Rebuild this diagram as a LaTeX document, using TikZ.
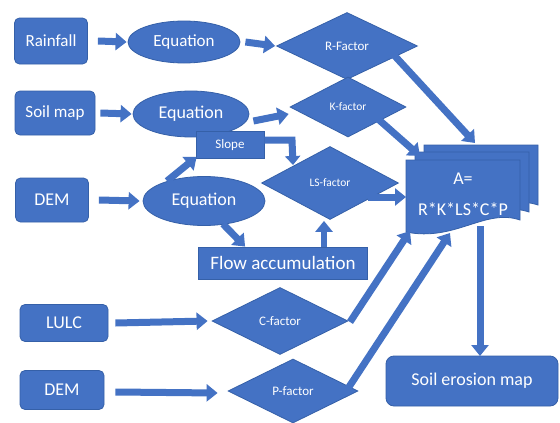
\documentclass[tikz,border=0pt]{standalone}
\usepackage{fontspec}
\setmainfont{Carlito}
\usetikzlibrary{shapes.geometric,arrows.meta,calc}
\definecolor{blu}{HTML}{4472C4}
\definecolor{edgeblu}{HTML}{3560A8}
\begin{document}
\begin{tikzpicture}[x=1pt,y=-1pt,
 base/.style={fill=blu,draw=edgeblu,line width=0.8pt,text=white,inner sep=0pt},
 big/.style={font=\fontsize{18}{21}\selectfont},
 med/.style={font=\fontsize{13}{15}\selectfont},
 sml/.style={font=\fontsize{11.5}{13}\selectfont},
 rbox/.style={base,big,rounded corners=5pt},
 sbox/.style={base},
 ell/.style={base,big,ellipse},
 dia/.style={base,diamond},
 barrow/.style={draw=blu,line width=7pt,-{Triangle[width=17pt,length=11pt]}}
]
\useasboundingbox[fill=white] (0,0) rectangle (560,423);

% input boxes
\node[rbox,minimum width=73pt,minimum height=46pt,font=\fontsize{17}{20}\selectfont] (rain) at (51,41) {Rainfall};
\node[rbox,minimum width=80pt,minimum height=44pt,font=\fontsize{17}{20}\selectfont] (soil) at (55,113) {Soil map};
\node[rbox,minimum width=73pt,minimum height=44pt] (dem) at (52,200) {DEM};
\node[rbox,minimum width=88pt,minimum height=37pt] (lulc) at (64,323) {LULC};
\node[rbox,minimum width=84pt,minimum height=39pt] (dem2) at (62,390) {DEM};

% equations
\node[ell,minimum width=112pt,minimum height=42pt,font=\fontsize{17}{20}\selectfont] (eq1) at (184,42) {Equation};
\node[ell,minimum width=116pt,minimum height=46pt] (eq2) at (191,114) {Equation};
\node[ell,minimum width=122pt,minimum height=49pt] (eq3) at (204,201) {Equation};

% factors
\node[dia,med,minimum width=141pt,minimum height=67pt] (rf) at (347,46) {R-Factor};
\node[dia,sml,minimum width=116pt,minimum height=60pt] (kf) at (348,107) {K-factor};
\node[dia,sml,minimum width=137pt,minimum height=73pt] (lsf) at (330,183) {LS-factor};
\node[dia,med,minimum width=136pt,minimum height=67pt] (cf) at (280,321) {C-factor};
\node[dia,med,minimum width=130pt,minimum height=64pt] (pf) at (293,391) {P-factor};

% slope & flow
\node[sbox,med,minimum width=68pt,minimum height=27pt] (slope) at (230,145) {Slope};
\node[sbox,font=\fontsize{19}{22}\selectfont,minimum width=169pt,minimum height=32pt] (flow) at (283,263) {Flow accumulation};

% output
\node[rbox,minimum width=172pt,minimum height=50pt,rounded corners=8pt] (out) at (472,381) {Soil erosion map};

% multidocument
\foreach \dx/\dy in {18/-15,9/-8,0/0}{
  \draw[base,shift={(\dx,\dy)}] (406,160) -- (520,160) -- (520,220)
    .. controls (485,208) and (455,242) .. (406,232) -- cycle;
}
\node[text=white,big,align=center,minimum width=114pt,minimum height=72pt,inner sep=0pt] (A) at (463,194) {A=\\[10pt]R*K*LS*C*P};

% coordinates for arrow ends
\coordinate (rEnd) at (475,143);
\coordinate (kEnd) at (420,156);
\coordinate (lsEnd) at (406,197);
\coordinate (cEnd) at (410,231);
\coordinate (pEnd) at (450,233);
\coordinate (slopeCorner) at (292,140);
\coordinate (aOut) at (480,226);
\coordinate (outTop) at (480,356);

% arrows
\draw[barrow] ([xshift=10pt]rain.east) -- ([xshift=-1pt]eq1.west);
\draw[barrow] ([xshift=5pt]eq1.east) -- ([xshift=-1pt]rf.west);
\draw[barrow] ([xshift=5pt]soil.east) -- ([xshift=-1pt]eq2.west);
\draw[barrow] ([xshift=4pt,yshift=-7pt]eq2.east) -- ([xshift=-1pt,yshift=-7pt]kf.west);
\draw[barrow] ([xshift=10pt]dem.east) -- ([xshift=-3pt]eq3.west);
\draw[barrow] ([xshift=7pt]lulc.east) -- ([xshift=-4pt]cf.west);
\draw[barrow] ([xshift=11pt,yshift=-2pt]dem2.east) -- ([xshift=-10pt,yshift=-2pt]pf.west);

\draw[barrow] ($(rf.center)+(46,8)$) -- (rEnd);
\draw[barrow] ($(kf.center)+(30,12)$) -- (kEnd);
\draw[barrow] ($(lsf.center)+(38,14)$) -- (lsEnd);
\draw[barrow] ($(cf.center)+(70,1)$) -- (cEnd);
\draw[barrow] ($(pf.center)+(54,-1)$) -- (pEnd);

\draw[barrow] ($(eq3.center)+(-37,-20)$) -- ([xshift=1pt,yshift=2pt]slope.south west);
\draw[barrow,-{Triangle[width=15pt,length=9pt]}] ([yshift=5pt]slope.east) -- (slopeCorner) -- ($(lsf.center)+(-37,-18)$);
\draw[barrow] ($(eq3.center)+(19,23)$) -- ($(flow.north west)+(47,0)$);
\draw[barrow,line width=6pt] ($(flow.north)+(41,0)$) -- ($(lsf.south)+(-6,1)$);
\draw[barrow] (aOut) -- (outTop);
\end{tikzpicture}
\end{document}
